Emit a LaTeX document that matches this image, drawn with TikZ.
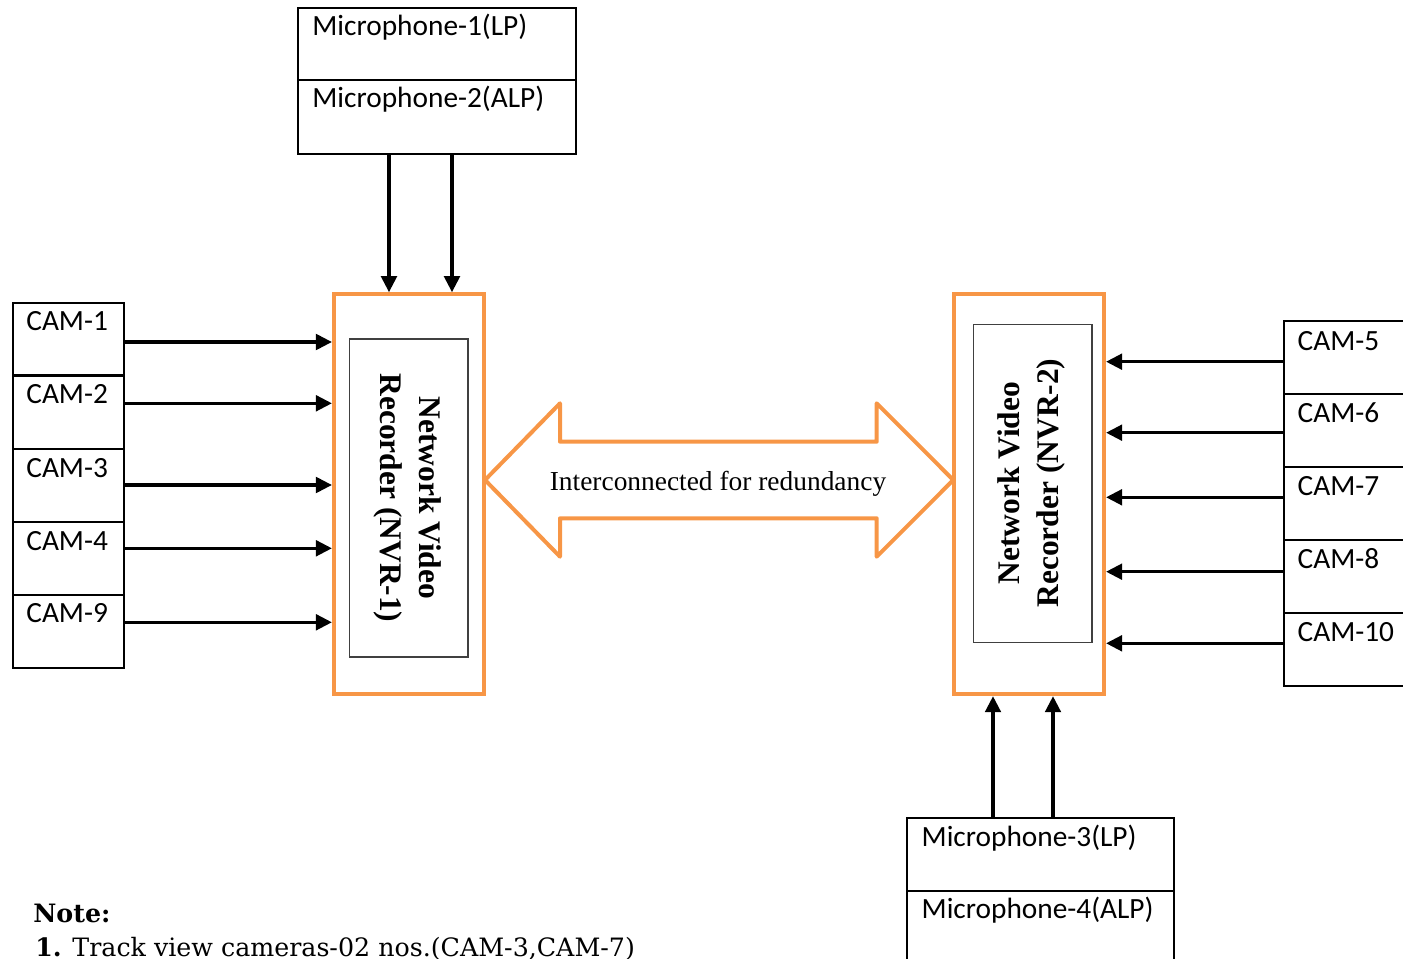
\documentclass[tikz,border=0pt]{standalone}
\usepackage{fontspec}
\setmainfont{Liberation Serif}
\newfontfamily\calfont{Carlito}
\newfontfamily\notefont{DejaVu Serif}
\usetikzlibrary{arrows.meta}
\definecolor{nvrorange}{HTML}{F79646}
\definecolor{innergray}{HTML}{404040}
\begin{document}
\begin{tikzpicture}[x=0.02cm,y=-0.02cm,
  box/.style={draw=black, line width=0.04cm, inner sep=0pt, minimum width=#1},
  camL/.style={box=2.22cm, minimum height=1.46cm},
  camR/.style={box=2.48cm, minimum height=1.46cm},
  lbl/.style={anchor=base west, inner sep=0pt, font=\calfont\fontsize{16.7}{19}\selectfont},
  nvr/.style={draw=nvrorange, line width=0.08cm, inner sep=0pt, minimum width=3.01cm, minimum height=8.0cm},
  nvrin/.style={draw=innergray, line width=0.03cm, inner sep=0pt, minimum width=2.37cm, minimum height=6.36cm},
  nvrtext/.style={align=center, inner sep=0pt, font=\bfseries\fontsize{17.9}{21.8}\selectfont},
  arr/.style={line width=0.068cm, -{Triangle[length=0.32cm,width=0.31cm]}},
  notetext/.style={anchor=base west, inner sep=0pt, font=\notefont\fontsize{14.4}{17}\selectfont}
]
\useasboundingbox (0,0) rectangle (1403,959);
\clip (0,0) rectangle (1403,959);

% microphones (top)
\node[box=5.56cm, minimum height=1.44cm] (m1) at (437,44) {};
\node[box=5.56cm, minimum height=1.48cm] (m2) at (437,117) {};
\node[lbl] (lm1) at ([shift={(15,28)}]m1.north west) {Microphone-1(LP)};
\node[lbl] (lm2) at ([shift={(15,28)}]m2.north west) {Microphone-2(ALP)};

% microphones (bottom)
\node[box=5.334cm, minimum height=1.466cm] (m3) at (1040.65,854.35) {};
\node[box=5.334cm, minimum height=1.46cm] (m4) at (1040.65,927.5) {};
\node[lbl] (lm3) at ([shift={(15,30)}]m3.north west) {Microphone-3(LP)};
\node[lbl] (lm4) at ([shift={(15,28)}]m4.north west) {Microphone-4(ALP)};

% NVR boxes
\node[nvr] (nvr1) at (409.2,494.2) {};
\node[nvrin] (nvr1in) at (408.7,498) {};
\node[nvrtext, rotate=-90] (t1) at (407.5,498) {Network Video\\Recorder (NVR-1)};

\node[nvr] (nvr2) at (1028.8,494.2) {};
\node[nvrin] (nvr2in) at (1032.5,483.5) {};
\node[nvrtext, rotate=90] (t2) at (1031.5,483) {Network Video\\Recorder (NVR-2)};

% left cameras
\node[camL] (c1) at (68.5,339) {};
\node[camL] (c2) at (68.5,412.35) {};
\node[camL] (c3) at (68.5,485.5) {};
\node[camL] (c4) at (68.5,558.5) {};
\node[camL] (c9) at (68.5,631.35) {};
\node[lbl] (lc1) at ([shift={(14,29)}]c1.north west) {CAM-1};
\node[lbl] (lc2) at ([shift={(14,29)}]c2.north west) {CAM-2};
\node[lbl] (lc3) at ([shift={(14,29)}]c3.north west) {CAM-3};
\node[lbl] (lc4) at ([shift={(14,29)}]c4.north west) {CAM-4};
\node[lbl] (lc9) at ([shift={(14,29)}]c9.north west) {CAM-9};

% right cameras
\node[camR] (c5) at (1346.3,357.5) {};
\node[camR] (c6) at (1346.3,430.35) {};
\node[camR] (c7) at (1346.3,503.2) {};
\node[camR] (c8) at (1346.3,576.2) {};
\node[camR] (c10) at (1346.3,649.2) {};
\node[lbl] (lc5) at ([shift={(14,30)}]c5.north west) {CAM-5};
\node[lbl] (lc6) at ([shift={(14,30)}]c6.north west) {CAM-6};
\node[lbl] (lc7) at ([shift={(14,30)}]c7.north west) {CAM-7};
\node[lbl] (lc8) at ([shift={(14,30)}]c8.north west) {CAM-8};
\node[lbl] (lc10) at ([shift={(14,30)}]c10.north west) {CAM-10};

% connectors: microphones to NVRs
\draw[arr] (m2.south -| 389,0) -- (nvr1.north -| 389,0);
\draw[arr] (m2.south -| 452,0) -- (nvr1.north -| 452,0);
\draw[arr] (m3.north -| 993,0) -- (nvr2.south -| 993,0);
\draw[arr] (m3.north -| 1053,0) -- (nvr2.south -| 1053,0);

% connectors: left cameras to NVR-1
\draw[arr] (c1.east |- 0,342) -- (nvr1.west |- 0,342);
\draw[arr] (c2.east |- 0,403.3) -- (nvr1.west |- 0,403.3);
\draw[arr] (c3.east |- 0,485) -- (nvr1.west |- 0,485);
\draw[arr] (c4.east |- 0,548.3) -- (nvr1.west |- 0,548.3);
\draw[arr] (c9.east |- 0,622.3) -- (nvr1.west |- 0,622.3);

% connectors: right cameras to NVR-2
\draw[arr] (c5.west |- 0,361.7) -- (nvr2.east |- 0,361.7);
\draw[arr] (c6.west |- 0,432.7) -- (nvr2.east |- 0,432.7);
\draw[arr] (c7.west |- 0,497.3) -- (nvr2.east |- 0,497.3);
\draw[arr] (c8.west |- 0,571.7) -- (nvr2.east |- 0,571.7);
\draw[arr] (c10.west |- 0,643.3) -- (nvr2.east |- 0,643.3);

% double block arrow between NVRs
\draw[nvrorange, line width=0.08cm, line join=round]
  (485,480) -- (560,403.3) -- (560,441.7) -- (876.7,441.7) -- (876.7,403.3)
  -- (953.3,480) -- (876.7,556.7) -- (876.7,518.3) -- (560,518.3) -- (560,556.7) -- cycle;
\node[anchor=base, inner sep=0pt, font=\fontsize{15.6}{18}\selectfont] (ic) at (718,490) {Interconnected for redundancy};

% note
\node[notetext, font=\notefont\bfseries\fontsize{14.4}{17}\selectfont] (note) at (33,922.7) {Note:};
\node[notetext] (note1) at (35,956) {\textbf{1.} Track view cameras-02 nos.(CAM-3,CAM-7)};
\end{tikzpicture}
\end{document}
